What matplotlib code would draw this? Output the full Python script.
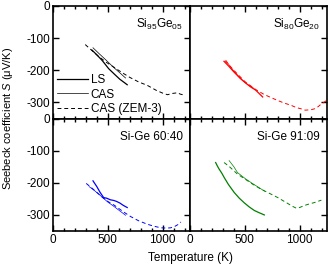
import numpy as np
import matplotlib.pyplot as plt

plt.rcParams['font.family'] = ['Liberation Sans', 'DejaVu Sans']
plt.rcParams['font.size'] = 8
plt.rcParams['axes.unicode_minus'] = False
plt.rcParams['mathtext.fontset'] = 'custom'
plt.rcParams['mathtext.rm'] = 'Liberation Sans'
plt.rcParams['mathtext.it'] = 'Liberation Sans:italic'

# Si95Ge05 (black)
t95_ls = [355, 400, 450, 508, 560, 610, 650, 677]
s95_ls = [-137, -152, -170, -195, -212, -228, -238, -245]
t95_cas = [365, 420, 480, 550, 610, 662]
s95_cas = [-130, -148, -167, -190, -208, -224]
t95_zem = [294, 350, 420, 490, 554, 620, 700, 780, 861, 940, 1000, 1045, 1090, 1137, 1160, 1183]
s95_zem = [-120, -137, -158, -176, -190, -205, -222, -236, -247, -262, -271, -276, -272, -270, -274, -276]

# Si80Ge20 (red)
t80_ls = [310, 350, 400, 460, 510, 554, 600, 630, 663]
s80_ls = [-172, -186, -205, -226, -240, -252, -262, -272, -283]
t80_cas = [330, 370, 420, 460, 500, 540, 583]
s80_cas = [-170, -190, -210, -224, -238, -248, -256]
t80_zem = [320, 400, 500, 600, 675, 740, 800, 860, 923, 970, 1015, 1050, 1100, 1135, 1170, 1200, 1230, 1250]
s80_zem = [-170, -200, -235, -260, -275, -285, -294, -302, -309, -316, -320, -324, -323, -320, -313, -304, -298, -292]

# Si-Ge 60:40 (blue)
t60_ls = [365, 400, 430, 462, 490, 524, 555, 580, 610, 640, 677]
s60_ls = [-194, -212, -230, -246, -248, -253, -255, -258, -263, -270, -277]
t60_cas = [330, 370, 420, 460, 500, 550, 600, 662]
s60_cas = [-212, -222, -236, -248, -260, -272, -285, -301]
t60_zem = [303, 350, 400, 450, 500, 560, 600, 650, 708, 780, 861, 920, 983, 1040, 1075, 1110, 1140, 1167]
s60_zem = [-202, -215, -230, -245, -258, -270, -280, -292, -305, -318, -329, -335, -340, -341, -340, -336, -330, -322]

# Si-Ge 91:09 (green)
t91_ls = [234, 250, 265, 290, 311, 350, 403, 450, 494, 540, 586, 630, 678]
s91_ls = [-137, -148, -157, -170, -183, -205, -230, -248, -262, -275, -286, -293, -300]
t91_cas = [357, 400, 433, 500, 560, 620, 680]
s91_cas = [-131, -150, -168, -186, -200, -213, -226]
t91_zem = [311, 360, 433, 500, 570, 648, 720, 801, 880, 940, 970, 1000, 1040, 1077, 1140, 1199]
s91_zem = [-137, -150, -173, -188, -204, -220, -232, -246, -262, -274, -279, -277, -271, -267, -261, -254]

panels = [
    ('Si$_{95}$Ge$_{05}$', 'black', t95_ls, s95_ls, t95_cas, s95_cas, t95_zem, s95_zem),
    ('Si$_{80}$Ge$_{20}$', 'red', t80_ls, s80_ls, t80_cas, s80_cas, t80_zem, s80_zem),
    ('Si-Ge 60:40', 'blue', t60_ls, s60_ls, t60_cas, s60_cas, t60_zem, s60_zem),
    ('Si-Ge 91:09', '#008000', t91_ls, s91_ls, t91_cas, s91_cas, t91_zem, s91_zem),
]

fig, axes = plt.subplots(2, 2, figsize=(3.28, 2.68), dpi=100)
fig.subplots_adjust(left=53/328, right=327/328, top=1-6/268, bottom=1-231/268,
                    wspace=0, hspace=0)

for i, (ax, p) in enumerate(zip(axes.flat, panels)):
    name, col, tl, sl, tc, sc, tz, sz = p
    ax.plot(tl, sl, color=col, lw=0.9, label='LS')
    ax.plot(tc, sc, color=col, lw=0.5, label='CAS')
    ax.plot(tz, sz, color=col, lw=0.7, ls=(0, (4, 3)), label='CAS (ZEM-3)')
    ax.set_xlim(0, 1250)
    ax.set_ylim(-350, 0)
    ax.set_xticks([0, 500, 1000])
    ax.set_xticks(np.arange(0, 1250, 100), minor=True)
    ax.set_yticks([0, -100, -200, -300])
    for s in ax.spines.values():
        s.set_linewidth(1.2)
    left = (i % 2 == 0)
    bottom = (i >= 2)
    ax.tick_params(which='both', direction='in', top=True, bottom=True,
                   left=left, right=True, labelleft=left, labelbottom=bottom,
                   width=1.0, pad=2, labelsize=8.5)
    ax.tick_params(which='major', length=4)
    ax.tick_params(which='minor', length=2.5)
    ax.text(0.95, 0.84, name, transform=ax.transAxes, ha='right', va='center', fontsize=8.5)

axes[0, 0].legend(loc='lower left', frameon=False, fontsize=8.5, handlelength=2.7,
                  handletextpad=0.2, labelspacing=0.2, borderaxespad=0.2,
                  borderpad=0.1)

fig.text(0.025, (1-118/268), 'Seebeck coefficient $\\mathit{S}$ (μV/K)', rotation=90,
         ha='center', va='center', fontsize=8)
fig.text(190/328, 1-258/268, 'Temperature (K)', ha='center', va='center', fontsize=8.5)

fig.savefig('out.png', dpi=100)
